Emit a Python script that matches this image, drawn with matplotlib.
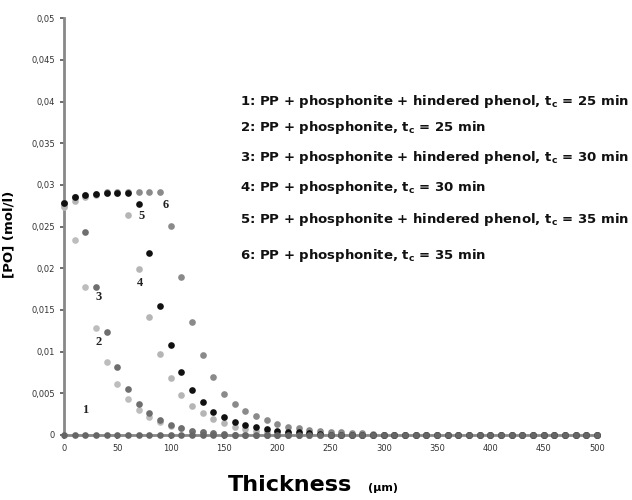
import matplotlib
matplotlib.use('Agg')
import matplotlib.pyplot as plt

# epaisseur (um), un point tous les 10 um
thickness = list(range(0, 501, 10))

# [PO] en mol/l (queue = 0)
po_1 = [0.0]
po_2 = [0.0273, 0.0234, 0.0178, 0.0128, 0.0088, 0.0061, 0.0043, 0.0030, 0.0022, 0.0016,
        0.0011, 0.0008, 0.0005, 0.0003, 0.0002, 0.0001]
po_3 = [0.0278, 0.0285, 0.0243, 0.0178, 0.0123, 0.0082, 0.0055, 0.0037, 0.0026, 0.0018,
        0.0012, 0.0008, 0.0005, 0.0003, 0.0002, 0.0001]
po_4 = [0.0275, 0.0281, 0.0285, 0.0288, 0.0290, 0.0290, 0.0264, 0.0199, 0.0141, 0.0097,
        0.0068, 0.0048, 0.0035, 0.0026, 0.0019, 0.0014, 0.0010, 0.0007, 0.0005, 0.0004,
        0.0003, 0.0002, 0.0001]
po_5 = [0.0278, 0.0286, 0.0288, 0.0289, 0.0290, 0.0290, 0.0290, 0.0277, 0.0218, 0.0155,
        0.0108, 0.0076, 0.0054, 0.0039, 0.0028, 0.0021, 0.0016, 0.0012, 0.0009, 0.0007,
        0.0005, 0.0004, 0.0003, 0.0002, 0.0001]
po_6 = [0.0278, 0.0286, 0.0288, 0.0289, 0.0291, 0.0291, 0.0291, 0.0291, 0.0292, 0.0291,
        0.0251, 0.0190, 0.0136, 0.0096, 0.0069, 0.0049, 0.0037, 0.0029, 0.0023, 0.0018,
        0.0013, 0.0010, 0.0008, 0.0006, 0.0005, 0.0004, 0.0003, 0.0002, 0.0002, 0.0001]

legend_lines = [
    r"1: PP + phosphonite + hindered phenol, t$_\mathbf{c}$ = 25 min",
    r"2: PP + phosphonite, t$_\mathbf{c}$ = 25 min",
    r"3: PP + phosphonite + hindered phenol, t$_\mathbf{c}$ = 30 min",
    r"4: PP + phosphonite, t$_\mathbf{c}$ = 30 min",
    r"5: PP + phosphonite + hindered phenol, t$_\mathbf{c}$ = 35 min",
    r"6: PP + phosphonite, t$_\mathbf{c}$ = 35 min",
]

yticks = [0, 0.005, 0.01, 0.015, 0.02, 0.025, 0.03, 0.035, 0.04, 0.045, 0.05]
ytick_labels = ['0', '0,005', '0,01', '0,015', '0,02', '0,025', '0,03', '0,035', '0,04', '0,045', '0,05']
xticks = list(range(0, 501, 50))


def pad(vals):
    return vals + [0.0] * (len(thickness) - len(vals))


fig = plt.figure(figsize=(6.32, 5), dpi=100)
ax = fig.add_axes([0.1013, 0.13, 0.8433, 0.8334])

series = [
    (po_2, '#bdbdbd'),
    (po_3, '#6e6e6e'),
    (po_4, '#b5b5b5'),
    (po_6, '#8a8a8a'),
    (po_5, '#111111'),
    (po_1, '#666666'),
]
for vals, col in series:
    ax.plot(thickness, pad(vals), 'o', color=col, markersize=4.8, markeredgewidth=0, clip_on=False, zorder=3)

# numeros des courbes
curve_labels = [('1', 20, 0.0030), ('2', 32, 0.0111), ('3', 32, 0.0165),
                ('4', 71, 0.0182), ('5', 73, 0.0263), ('6', 95, 0.0276)]
for txt, x, y in curve_labels:
    ax.text(x, y, txt, ha='center', va='center', fontsize=9, family='Liberation Serif',
            fontweight='bold', color='#222222', zorder=4)

ax.set_xlim(0, 500)
ax.set_ylim(0, 0.05)
ax.set_yticks(yticks)
ax.set_yticklabels(ytick_labels)
ax.set_xticks(xticks)
ax.tick_params(axis='both', labelsize=6, colors='#555555', length=3, width=1.2)
for lab in ax.get_xticklabels() + ax.get_yticklabels():
    lab.set_color('#333333')

for s in ['top', 'right']:
    ax.spines[s].set_visible(False)
for s in ['left', 'bottom']:
    ax.spines[s].set_color('#888888')
    ax.spines[s].set_linewidth(2)

ax.set_ylabel('[PO] (mol/l)', fontsize=9.5, fontweight='bold')
ax.yaxis.set_label_coords(-0.092, 0.482)

fig.text(0.361, 0.018, 'Thickness', fontsize=16, fontweight='bold', ha='left', va='baseline')
fig.text(0.583, 0.018, '(\u00b5m)', fontsize=8, fontweight='bold', ha='left', va='baseline')

leg_y = [0.798, 0.746, 0.686, 0.624, 0.562, 0.488]
for txt, y in zip(legend_lines, leg_y):
    fig.text(0.379, y, txt, fontsize=9.5, fontweight='bold', ha='left', va='center', color='#111111')

plt.savefig('out.png', dpi=100)
